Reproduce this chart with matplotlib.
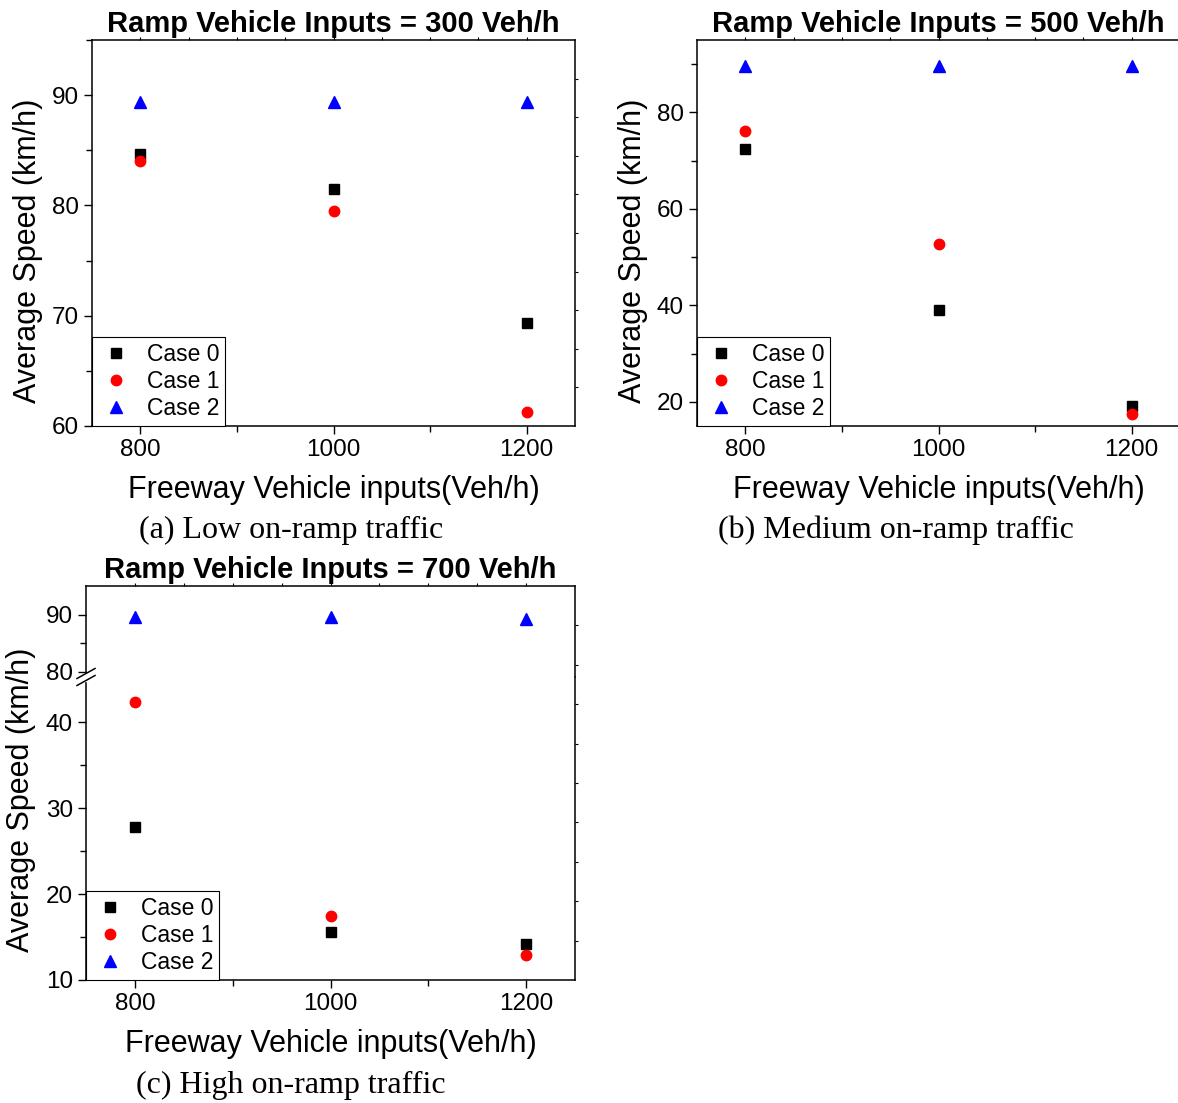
import numpy as np
import matplotlib
matplotlib.use("Agg")
from matplotlib import pyplot as plt
from matplotlib.lines import Line2D
from matplotlib.ticker import MultipleLocator, FixedLocator

plt.rcParams['font.family'] = ['Liberation Sans', 'DejaVu Sans']

freeway = [800, 1000, 1200]
case_names = ["Case 0", "Case 1", "Case 2"]

a_case0 = [84.7, 81.5, 69.3]
a_case1 = [84.0, 79.5, 61.3]
a_case2 = [89.4, 89.4, 89.4]

b_case0 = [72.4, 39.0, 19.2]
b_case1 = [76.2, 52.8, 17.5]
b_case2 = [89.7, 89.7, 89.7]

c_case0 = [27.8, 15.6, 14.2]
c_case1 = [42.4, 17.4, 12.9]
c_case2 = [89.5, 89.5, 89.2]

styles = [
    dict(marker='s', color='black', ms=6.5),
    dict(marker='o', color='red', ms=7.5),
    dict(marker='^', color='blue', ms=8.5),
]

W, H = 1178, 1103
fig = plt.figure(figsize=(W / 100, H / 100), dpi=100)


def rect(left, top, right, bottom):
    return [left / W, 1 - bottom / H, (right - left) / W, (bottom - top) / H]


def style_axis(ax):
    for s in ax.spines.values():
        s.set_linewidth(1.1)
    ax.tick_params(which='major', length=6, width=1, labelsize=17.5, direction='out')
    ax.tick_params(which='minor', length=4, width=1, direction='out')
    ax.tick_params(top=False, right=False)


def edge_ticks(r, xlim):
    ov = fig.add_axes(r, frameon=False)
    ov.patch.set_visible(False)
    ov.set_xlim(xlim)
    ov.set_ylim(0, 1)
    ov.xaxis.tick_top()
    ov.yaxis.tick_right()
    ov.set_xticks(np.arange(xlim[0] + 50, xlim[1], 50))
    ov.set_yticks(np.arange(0.1, 0.95, 0.1))
    ov.tick_params(length=2.5, width=0.8, labeltop=False, labelright=False)
    return ov


def scatter_cases(ax, series):
    for vals, name, st in zip(series, case_names, styles):
        ax.plot(freeway, vals, linestyle='none', label=name, **st)


def add_legend(ax):
    leg = ax.legend(loc='lower left', borderaxespad=0, fontsize=16.5, frameon=True,
                    fancybox=False, handletextpad=0.55, labelspacing=0.18,
                    borderpad=0.25, handlelength=1.6, framealpha=1)
    leg.get_frame().set_edgecolor('black')
    leg.get_frame().set_linewidth(0.8)


xlim = (750, 1250)
xlabel = "Freeway Vehicle inputs(Veh/h)"
ylabel = "Average Speed (km/h)"
title_kw = dict(fontsize=21, fontweight='bold', pad=6)
lab_size = 22

# (a)
ra = rect(92, 40, 575, 426)
ax = fig.add_axes(ra)
scatter_cases(ax, [a_case0, a_case1, a_case2])
ax.set_xlim(xlim)
ax.set_ylim(60, 95)
ax.set_xticks(freeway)
ax.xaxis.set_minor_locator(FixedLocator([900, 1100]))
ax.yaxis.set_major_locator(MultipleLocator(10))
ax.yaxis.set_minor_locator(MultipleLocator(5))
style_axis(ax)
ax.set_title("Ramp Vehicle Inputs = 300 Veh/h", **title_kw)
ax.set_xlabel(xlabel, fontsize=lab_size, labelpad=10)
ax.set_ylabel(ylabel, fontsize=lab_size)
ax.yaxis.set_label_coords(-0.101, 0.453)
add_legend(ax)
edge_ticks(ra, xlim)

# (b)
rb = rect(697, 40, 1180, 426)
ax = fig.add_axes(rb)
scatter_cases(ax, [b_case0, b_case1, b_case2])
ax.set_xlim(xlim)
ax.set_ylim(15, 95)
ax.set_xticks(freeway)
ax.xaxis.set_minor_locator(FixedLocator([900, 1100]))
ax.yaxis.set_major_locator(MultipleLocator(20))
ax.yaxis.set_minor_locator(MultipleLocator(10))
style_axis(ax)
ax.set_title("Ramp Vehicle Inputs = 500 Veh/h", **title_kw)
ax.set_xlabel(xlabel, fontsize=lab_size, labelpad=10)
ax.set_ylabel(ylabel, fontsize=lab_size)
ax.yaxis.set_label_coords(-0.101, 0.453)
add_legend(ax)
edge_ticks(rb, xlim)

# (c) broken y axis
rc_top = rect(86, 586, 575, 677)
rc_bot = rect(86, 677, 575, 980)
axt = fig.add_axes(rc_top)
axb = fig.add_axes(rc_bot)
for a_ in (axt, axb):
    scatter_cases(a_, [c_case0, c_case1, c_case2])
    a_.set_xlim(xlim)
    a_.set_xticks(freeway)
    a_.xaxis.set_minor_locator(FixedLocator([900, 1100]))
    style_axis(a_)
axt.set_ylim(79.1, 95)
axt.yaxis.set_major_locator(FixedLocator([80, 90]))
axt.yaxis.set_minor_locator(FixedLocator([85]))
axb.set_ylim(10, 45.3)
axb.yaxis.set_major_locator(FixedLocator([10, 20, 30, 40]))
axb.yaxis.set_minor_locator(FixedLocator([15, 25, 35]))
axt.spines['bottom'].set_visible(False)
axb.spines['top'].set_visible(False)
axt.tick_params(which='both', bottom=False, labelbottom=False)
axt.set_title("Ramp Vehicle Inputs = 700 Veh/h", **title_kw)
axb.set_xlabel(xlabel, fontsize=lab_size, labelpad=10)
axb.set_ylabel(ylabel, fontsize=lab_size)
axb.yaxis.set_label_coords(-0.102, 0.594)
add_legend(axb)
edge_ticks(rect(86, 586, 575, 980), xlim)

# break marks on the left spine
bx, by = fig.transFigure.inverted().transform(axb.transAxes.transform((0, 1)))
dx, dy = 9 / W, 5 / H
gap = 3.5 / H
fig.add_artist(plt.Rectangle((bx - 2 / W, by - gap), 4 / W, 2 * gap,
                             transform=fig.transFigure, color='white', zorder=5))
for off in (-gap, gap):
    fig.add_artist(Line2D([bx - dx, bx + dx], [by + off - dy, by + off + dy],
                          transform=fig.transFigure, color='black', lw=1.1, zorder=6))

# captions
cap_kw = dict(fontsize=23, family='Liberation Serif', ha='center', va='center')
fig.text(291 / W, 1 - 530 / H, "(a) Low on-ramp traffic", **cap_kw)
fig.text(896 / W, 1 - 530 / H, "(b) Medium on-ramp traffic", **cap_kw)
fig.text(291 / W, 1 - 1085 / H, "(c) High on-ramp traffic", **cap_kw)

fig.savefig("out.png", dpi=100)
